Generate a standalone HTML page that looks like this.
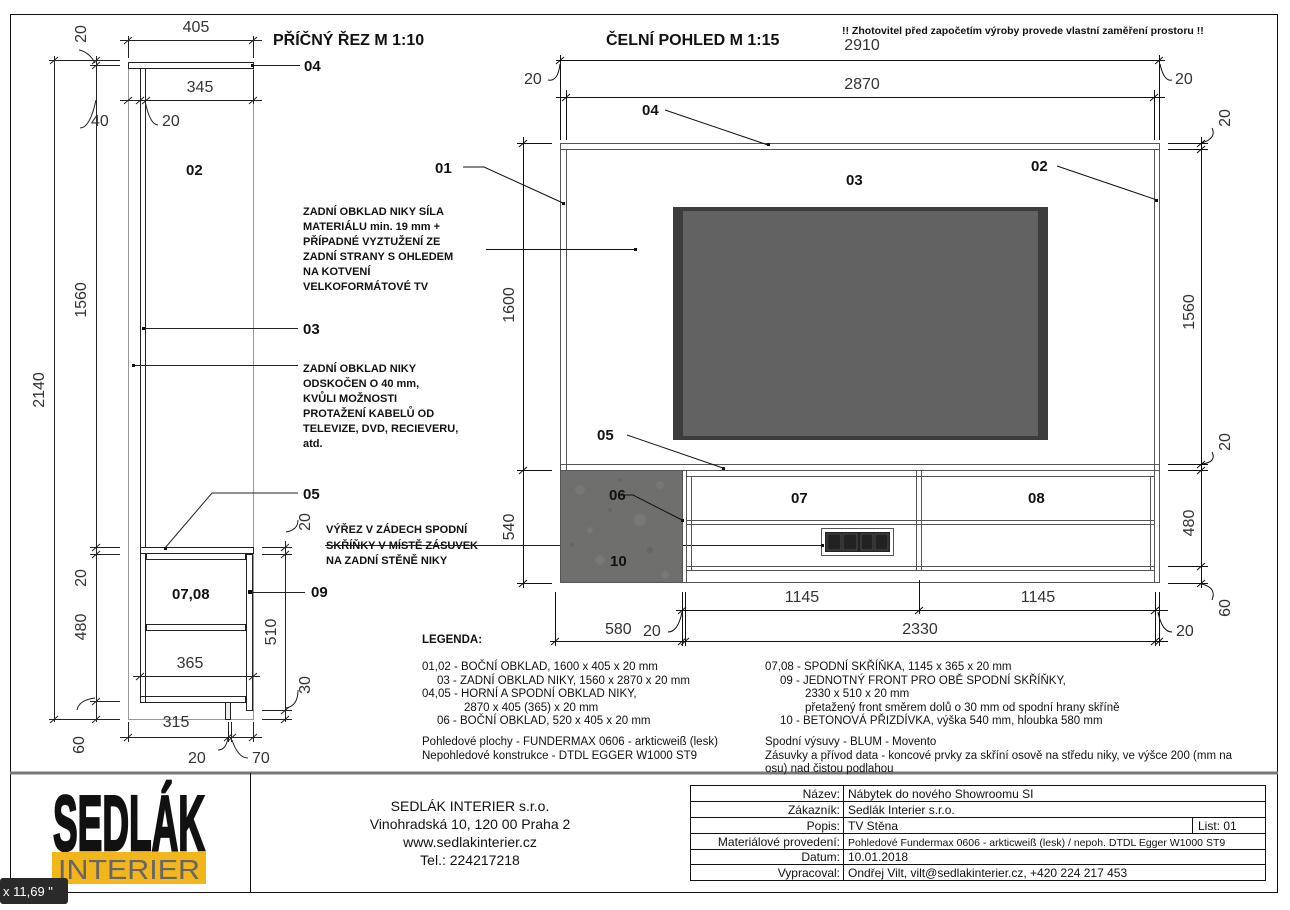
<!DOCTYPE html>
<html><head><meta charset="utf-8"><style>
html,body{margin:0;padding:0;background:#fff;}
svg{display:block;}
text{font-family:"Liberation Sans",sans-serif;}
.b{font-weight:bold;fill:#111;font-size:15px;}
.d{font-size:16px;fill:#333;}
.a{font-weight:bold;font-size:11px;fill:#111;}
.l{font-size:11.5px;fill:#111;font-family:"Liberation Sans Narrow","Liberation Sans",sans-serif;}
.t{font-size:12px;fill:#111;}
</style></head><body>
<svg width="1290" height="910" viewBox="0 0 1290 910" xmlns="http://www.w3.org/2000/svg">
<g fill="none" stroke="#111" stroke-width="1">
<rect x="10.5" y="14.5" width="1267" height="878"/>
<line x1="10" y1="773" x2="1278" y2="773" stroke="#777" stroke-width="3"/>
<line x1="250.5" y1="773" x2="250.5" y2="893"/>
</g>

<!-- ===== side section ===== -->
<g fill="none" stroke="#222" stroke-width="1">
<rect x="128.5" y="68.5" width="125" height="651" stroke="#999"/>
<rect x="128.5" y="62.5" width="125" height="6" fill="#fff"/>
<rect x="140.5" y="68.5" width="5" height="479"/>
<rect x="140.5" y="547.5" width="113" height="6" fill="#fff"/>
<rect x="140.5" y="553.5" width="5" height="149"/>
<rect x="146.5" y="553.5" width="99" height="6"/>
<rect x="146.5" y="624.5" width="99" height="6"/>
<rect x="140.5" y="696.5" width="105" height="6"/>
<rect x="246.5" y="554.5" width="6" height="156"/>
<rect x="225.5" y="702.5" width="5" height="17" fill="#eee"/>
<!-- dims -->
<line x1="54.5" y1="56" x2="54.5" y2="722"/>
<line x1="49" y1="60.5" x2="120" y2="60.5"/>
<line x1="49" y1="719.5" x2="120" y2="719.5"/>
<line x1="96.5" y1="56" x2="96.5" y2="722"/>
<line x1="90" y1="65.5" x2="120" y2="65.5"/>
<line x1="90" y1="547.5" x2="120" y2="547.5"/>
<line x1="90" y1="554.5" x2="120" y2="554.5"/>
<line x1="90" y1="701.5" x2="120" y2="701.5"/>
<line x1="285.5" y1="541" x2="285.5" y2="722"/>
<line x1="262" y1="547.5" x2="292" y2="547.5"/>
<line x1="262" y1="554.5" x2="292" y2="554.5"/>
<line x1="262" y1="710.5" x2="292" y2="710.5"/>
<line x1="262" y1="719.5" x2="292" y2="719.5"/>
<line x1="120" y1="40.5" x2="262" y2="40.5"/>
<line x1="128.5" y1="36" x2="128.5" y2="58"/>
<line x1="253.5" y1="36" x2="253.5" y2="58"/>
<line x1="120" y1="100.5" x2="262" y2="100.5"/>
<line x1="253.5" y1="70" x2="253.5" y2="104"/>
<line x1="133" y1="676.5" x2="260" y2="676.5"/>
<line x1="120" y1="737.5" x2="262" y2="737.5"/>
<line x1="128.5" y1="722" x2="128.5" y2="742"/>
<line x1="253.5" y1="722" x2="253.5" y2="742"/>
<line x1="228.5" y1="722" x2="228.5" y2="742"/>
<line x1="231.5" y1="722" x2="231.5" y2="742"/>
<!-- ticks -->
<path d="M50,64 l8,-7 M92,64 l8,-7 M92,69 l8,-7 M92,551 l8,-7 M92,558 l8,-7 M92,705 l8,-7 M50,723 l8,-7 M92,723 l8,-7 M281,551 l8,-7 M281,558 l8,-7 M281,714 l8,-7 M281,723 l8,-7 M124,44 l8,-7 M249,44 l8,-7 M124,104 l8,-7 M136,104 l8,-7 M142,104 l8,-7 M249,104 l8,-7 M136,680 l8,-7 M249,680 l8,-7 M124,741 l8,-7 M224,741 l8,-7 M228,741 l8,-7 M249,741 l8,-7"/>
<!-- leaders -->
<line x1="253" y1="65.5" x2="300" y2="65.5"/>
<line x1="143" y1="328.5" x2="298" y2="328.5"/>
<line x1="133" y1="365.5" x2="298" y2="365.5"/>
<polyline points="165,548 212,493 298,493"/>
<line x1="250" y1="592.5" x2="305" y2="592.5"/>
<line x1="325" y1="545.5" x2="825" y2="545.5"/>
<path d="M79,50 q10,2 16,13"/><path d="M80,128 q10,0 16,-28"/><path d="M158,125 q-8,0 -13,-24"/>
<path d="M77,710 q2,-10 18,-12"/><path d="M298,520 q0,10 -12,12"/><path d="M298,690 q0,16 -12,18"/>
<path d="M218,750 q8,0 10,-12"/><path d="M248,758 q-10,0 -16,-18"/>
</g>
<g fill="#111"><rect x="251" y="64" width="3" height="3"/><rect x="142" y="327" width="3" height="3"/><rect x="132" y="364" width="3" height="3"/><rect x="164" y="547" width="3" height="3"/><rect x="248" y="590" width="4" height="4"/></g>
<text class="d" x="196" y="32" text-anchor="middle">405</text>
<text class="d" x="200" y="92" text-anchor="middle">345</text>
<text class="d" x="91" y="126">40</text>
<text class="d" x="162" y="126">20</text>
<text class="d" x="190" y="668" text-anchor="middle">365</text>
<text class="d" x="176" y="727" text-anchor="middle">315</text>
<text class="d" x="188" y="763">20</text>
<text class="d" x="252" y="763">70</text>
<g class="d">
<text transform="translate(86,34) rotate(-90)" text-anchor="middle">20</text>
<text transform="translate(86,300) rotate(-90)" text-anchor="middle">1560</text>
<text transform="translate(44,390) rotate(-90)" text-anchor="middle">2140</text>
<text transform="translate(86,578) rotate(-90)" text-anchor="middle">20</text>
<text transform="translate(86,627) rotate(-90)" text-anchor="middle">480</text>
<text transform="translate(84,745) rotate(-90)" text-anchor="middle">60</text>
<text transform="translate(310,522) rotate(-90)" text-anchor="middle">20</text>
<text transform="translate(276,632) rotate(-90)" text-anchor="middle">510</text>
<text transform="translate(310,685) rotate(-90)" text-anchor="middle">30</text>
</g>
<text class="b" x="273" y="45" style="font-size:16px">PŘÍČNÝ ŘEZ M 1:10</text>
<text class="b" x="304" y="71">04</text>
<text class="b" x="186" y="175">02</text>
<text class="b" x="303" y="334">03</text>
<text class="b" x="303" y="499">05</text>
<text class="b" x="172" y="599">07,08</text>
<text class="b" x="311" y="597">09</text>
<g class="a">
<text x="303" y="372">ZADNÍ OBKLAD NIKY</text>
<text x="303" y="387">ODSKOČEN O 40 mm,</text>
<text x="303" y="402">KVŮLI MOŽNOSTI</text>
<text x="303" y="417">PROTAŽENÍ KABELŮ OD</text>
<text x="303" y="432">TELEVIZE, DVD, RECIEVERU,</text>
<text x="303" y="447">atd.</text>
<text x="326" y="533">VÝŘEZ V ZÁDECH SPODNÍ</text>
<text x="326" y="549">SKŘÍŇKY V MÍSTĚ ZÁSUVEK</text>
<text x="326" y="564">NA ZADNÍ STĚNĚ NIKY</text>
<text x="303" y="215">ZADNÍ OBKLAD NIKY SÍLA</text>
<text x="303" y="230">MATERIÁLU min. 19 mm +</text>
<text x="303" y="245">PŘÍPADNÉ VYZTUŽENÍ ZE</text>
<text x="303" y="260">ZADNÍ STRANY S OHLEDEM</text>
<text x="303" y="275">NA KOTVENÍ</text>
<text x="303" y="290">VELKOFORMÁTOVÉ TV</text>
</g>

<!-- ===== front view ===== -->
<rect x="560" y="470" width="122" height="113" fill="#6f6f6d"/>
<g fill="#7d7d7b" opacity=".6"><circle cx="580" cy="490" r="5"/><circle cx="640" cy="520" r="6"/><circle cx="600" cy="560" r="5"/><circle cx="665" cy="575" r="4"/><circle cx="590" cy="530" r="3"/><circle cx="660" cy="485" r="4"/></g>
<g fill="#5e5e5c" opacity=".5"><circle cx="620" cy="480" r="2"/><circle cx="572" cy="545" r="2"/><circle cx="650" cy="550" r="3"/><circle cx="610" cy="510" r="2"/></g>
<g fill="none" stroke="#555" stroke-width="1">
<rect x="560.5" y="143.5" width="599" height="439"/>
<line x1="566.5" y1="149" x2="566.5" y2="470"/>
<line x1="1154.5" y1="149" x2="1154.5" y2="583"/>
<line x1="560" y1="149.5" x2="1160" y2="149.5"/>
<line x1="560" y1="464.5" x2="1160" y2="464.5"/>
<line x1="560" y1="470.5" x2="1160" y2="470.5"/>
<line x1="682.5" y1="470" x2="682.5" y2="583"/>
<line x1="686.5" y1="470" x2="686.5" y2="583"/>
<line x1="686" y1="476.5" x2="1154" y2="476.5"/>
<line x1="686" y1="520.5" x2="1154" y2="520.5"/>
<line x1="686" y1="524.5" x2="1154" y2="524.5"/>
<line x1="686" y1="566.5" x2="1154" y2="566.5"/>
<line x1="686" y1="570.5" x2="1154" y2="570.5"/>
<line x1="916.5" y1="470" x2="916.5" y2="570"/>
<line x1="921.5" y1="470" x2="921.5" y2="570"/>
<line x1="691.5" y1="476" x2="691.5" y2="570"/>
<line x1="1150.5" y1="476" x2="1150.5" y2="570"/>
<rect x="821.5" y="528.5" width="72" height="27" fill="#fff"/>
</g>
<rect x="825" y="532" width="65" height="20" fill="#222"/>
<g fill="none" stroke="#555" stroke-width=".8"><rect x="827" y="534" width="14" height="16"/><rect x="843" y="534" width="14" height="16"/><rect x="861" y="534" width="12" height="16"/><rect x="875" y="534" width="13" height="16"/></g>
<rect x="673" y="207" width="375" height="233" fill="#3c3c3c"/>
<rect x="683" y="211" width="355" height="225" fill="#626262"/>
<g fill="none" stroke="#111" stroke-width="1">
<line x1="556" y1="60.5" x2="1165" y2="60.5"/>
<line x1="560.5" y1="55" x2="560.5" y2="140"/>
<line x1="1159.5" y1="55" x2="1159.5" y2="140"/>
<line x1="556" y1="97.5" x2="1165" y2="97.5"/>
<line x1="566.5" y1="90" x2="566.5" y2="140"/>
<line x1="1154.5" y1="90" x2="1154.5" y2="140"/>
<line x1="523.5" y1="137" x2="523.5" y2="588"/>
<line x1="517" y1="143.5" x2="552" y2="143.5"/>
<line x1="517" y1="470.5" x2="552" y2="470.5"/>
<line x1="517" y1="583.5" x2="552" y2="583.5"/>
<line x1="1201.5" y1="137" x2="1201.5" y2="588"/>
<line x1="1168" y1="143.5" x2="1208" y2="143.5"/>
<line x1="1168" y1="149.5" x2="1208" y2="149.5"/>
<line x1="1168" y1="464.5" x2="1208" y2="464.5"/>
<line x1="1168" y1="470.5" x2="1208" y2="470.5"/>
<line x1="1168" y1="566.5" x2="1208" y2="566.5"/>
<line x1="1168" y1="583.5" x2="1208" y2="583.5"/>
<line x1="676" y1="610.5" x2="1168" y2="610.5"/>
<line x1="919.5" y1="580" x2="919.5" y2="614"/>
<line x1="550" y1="641.5" x2="1168" y2="641.5"/>
<line x1="555.5" y1="592" x2="555.5" y2="646"/>
<line x1="682.5" y1="592" x2="682.5" y2="646"/>
<line x1="685.5" y1="592" x2="685.5" y2="646"/>
<line x1="1159.5" y1="592" x2="1159.5" y2="646"/>
<line x1="1155.5" y1="592" x2="1155.5" y2="646"/>
<path d="M556,64 l8,-7 M1155,64 l8,-7 M562,101 l8,-7 M1150,101 l8,-7 M519,147 l8,-7 M519,474 l8,-7 M519,587 l8,-7 M1197,147 l8,-7 M1197,153 l8,-7 M1197,468 l8,-7 M1197,474 l8,-7 M1197,570 l8,-7 M1197,587 l8,-7 M678,614 l8,-7 M915,614 l8,-7 M1151,614 l8,-7 M551,645 l8,-7 M678,645 l8,-7 M681,645 l8,-7 M1151,645 l8,-7 M1155,645 l8,-7"/>
<polyline points="463,167 484,167 563,203"/>
<polyline points="665,110 768,145"/>
<polyline points="1057,166 1157,200"/>
<line x1="486" y1="249.5" x2="635" y2="249.5"/>
<polyline points="627,435 723,468"/>
<polyline points="620,495 633,495 682,520"/>
<path d="M548,80 q10,2 12,-16"/><path d="M1172,80 q-8,2 -12,-16"/>
<path d="M1212,128 q5,10 -10,15"/><path d="M1212,452 q5,10 -10,12"/><path d="M1212,600 q5,-12 -10,-16"/>
<path d="M668,632 q10,0 14,-20"/><path d="M1172,632 q-10,0 -14,-20"/>
</g>
<g fill="#111"><rect x="562" y="202" width="3" height="3"/><rect x="767" y="143" width="3" height="3"/><rect x="1155" y="199" width="3" height="3"/><rect x="634" y="248" width="3" height="3"/><rect x="722" y="467" width="3" height="3"/><rect x="681" y="519" width="3" height="3"/><rect x="821" y="544" width="3" height="3"/></g>
<text class="b" x="606" y="45" style="font-size:16px">ČELNÍ POHLED M 1:15</text>
<text class="a" x="842" y="34" style="font-size:10.5px">!! Zhotovitel před započetím výroby provede vlastní zaměření prostoru !!</text>
<text class="d" x="862" y="50" text-anchor="middle">2910</text>
<text class="d" x="862" y="89" text-anchor="middle">2870</text>
<text class="d" x="524" y="84">20</text>
<text class="d" x="1175" y="84">20</text>
<text class="d" x="802" y="602" text-anchor="middle">1145</text>
<text class="d" x="1038" y="602" text-anchor="middle">1145</text>
<text class="d" x="605" y="634">580</text>
<text class="d" x="643" y="636">20</text>
<text class="d" x="920" y="634" text-anchor="middle">2330</text>
<text class="d" x="1176" y="636">20</text>
<g class="d">
<text transform="translate(514,305) rotate(-90)" text-anchor="middle">1600</text>
<text transform="translate(514,527) rotate(-90)" text-anchor="middle">540</text>
<text transform="translate(1230,118) rotate(-90)" text-anchor="middle">20</text>
<text transform="translate(1194,312) rotate(-90)" text-anchor="middle">1560</text>
<text transform="translate(1230,442) rotate(-90)" text-anchor="middle">20</text>
<text transform="translate(1194,523) rotate(-90)" text-anchor="middle">480</text>
<text transform="translate(1230,608) rotate(-90)" text-anchor="middle">60</text>
</g>
<text class="b" x="435" y="173">01</text>
<text class="b" x="642" y="115">04</text>
<text class="b" x="1031" y="171">02</text>
<text class="b" x="846" y="185">03</text>
<text class="b" x="597" y="440">05</text>
<text class="b" x="609" y="500">06</text>
<text class="b" x="610" y="566">10</text>
<text class="b" x="791" y="503">07</text>
<text class="b" x="1028" y="503">08</text>

<!-- legend -->
<g class="l">
<text x="422" y="643" style="font-weight:bold">LEGENDA:</text>
<text x="422" y="670">01,02 - BOČNÍ OBKLAD, 1600 x 405 x 20 mm</text>
<text x="437" y="684">03 - ZADNÍ OBKLAD NIKY, 1560 x 2870 x 20 mm</text>
<text x="422" y="697">04,05 - HORNÍ A SPODNÍ OBKLAD NIKY,</text>
<text x="464" y="711">2870 x 405 (365) x 20 mm</text>
<text x="437" y="724">06 - BOČNÍ OBKLAD, 520 x 405 x 20 mm</text>
<text x="422" y="745">Pohledové plochy - FUNDERMAX 0606 - arkticweiß (lesk)</text>
<text x="422" y="759">Nepohledové konstrukce - DTDL EGGER W1000 ST9</text>
<text x="765" y="670">07,08 - SPODNÍ SKŘÍŇKA, 1145 x 365 x 20 mm</text>
<text x="780" y="684">09 - JEDNOTNÝ FRONT PRO OBĚ SPODNÍ SKŘÍŇKY,</text>
<text x="805" y="697">2330 x 510 x 20 mm</text>
<text x="805" y="711">přetažený front směrem dolů o 30 mm od spodní hrany skříně</text>
<text x="780" y="724">10 - BETONOVÁ PŘIZDÍVKA, výška 540 mm, hloubka 580 mm</text>
<text x="765" y="745">Spodní výsuvy - BLUM - Movento</text>
<text x="765" y="759">Zásuvky a přívod data - koncové prvky za skříní osově na středu niky, ve výšce 200 (mm na</text>
<text x="765" y="772">osu) nad čistou podlahou</text>
</g>

<!-- title block -->
<g transform="translate(0,850) scale(1,1.35)">
<text x="129" y="0" text-anchor="middle" textLength="152" lengthAdjust="spacingAndGlyphs" style="font-weight:bold;font-size:58px;fill:#111;stroke:#111;stroke-width:2">SEDLÁK</text>
</g>
<rect x="52" y="852" width="154" height="32" fill="#f2b51c"/>
<text x="129" y="879" text-anchor="middle" textLength="142" lengthAdjust="spacingAndGlyphs" style="font-size:28px;fill:#666">INTERIER</text>
<g class="t" text-anchor="middle" style="font-size:14px">
<text x="470" y="811">SEDLÁK INTERIER s.r.o.</text>
<text x="470" y="829">Vinohradská 10, 120 00 Praha 2</text>
<text x="470" y="847">www.sedlakinterier.cz</text>
<text x="470" y="865">Tel.: 224217218</text>
</g>
<g fill="none" stroke="#111" stroke-width="1">
<rect x="690.5" y="785.5" width="575" height="95"/>
<line x1="690" y1="801.5" x2="1266" y2="801.5"/>
<line x1="690" y1="817.5" x2="1266" y2="817.5"/>
<line x1="690" y1="833.5" x2="1266" y2="833.5"/>
<line x1="690" y1="849.5" x2="1266" y2="849.5"/>
<line x1="690" y1="864.5" x2="1266" y2="864.5"/>
<line x1="843.5" y1="785" x2="843.5" y2="881"/>
<line x1="1192.5" y1="817" x2="1192.5" y2="833"/>
</g>
<g class="t" text-anchor="end">
<text x="840" y="798">Název:</text>
<text x="840" y="814">Zákazník:</text>
<text x="840" y="830">Popis:</text>
<text x="840" y="846">Materiálové provedení:</text>
<text x="840" y="861">Datum:</text>
<text x="840" y="877">Vypracoval:</text>
</g>
<g class="t">
<text x="848" y="798">Nábytek do nového Showroomu SI</text>
<text x="848" y="814">Sedlák Interier s.r.o.</text>
<text x="848" y="830">TV Stěna</text>
<text x="1198" y="830">List:   01</text>
<text x="848" y="846" style="font-size:10.5px">Pohledové Fundermax 0606 - arkticweiß (lesk) / nepoh. DTDL Egger W1000 ST9</text>
<text x="848" y="861">10.01.2018</text>
<text x="848" y="877">Ondřej Vilt, vilt@sedlakinterier.cz, +420 224 217 453</text>
</g>
<rect x="0" y="878" width="68" height="26" rx="3" fill="#2a2a2a"/>
<text x="3" y="896" style="font-size:13px;fill:#fff">x 11,69 "</text>
</svg>
</body></html>
